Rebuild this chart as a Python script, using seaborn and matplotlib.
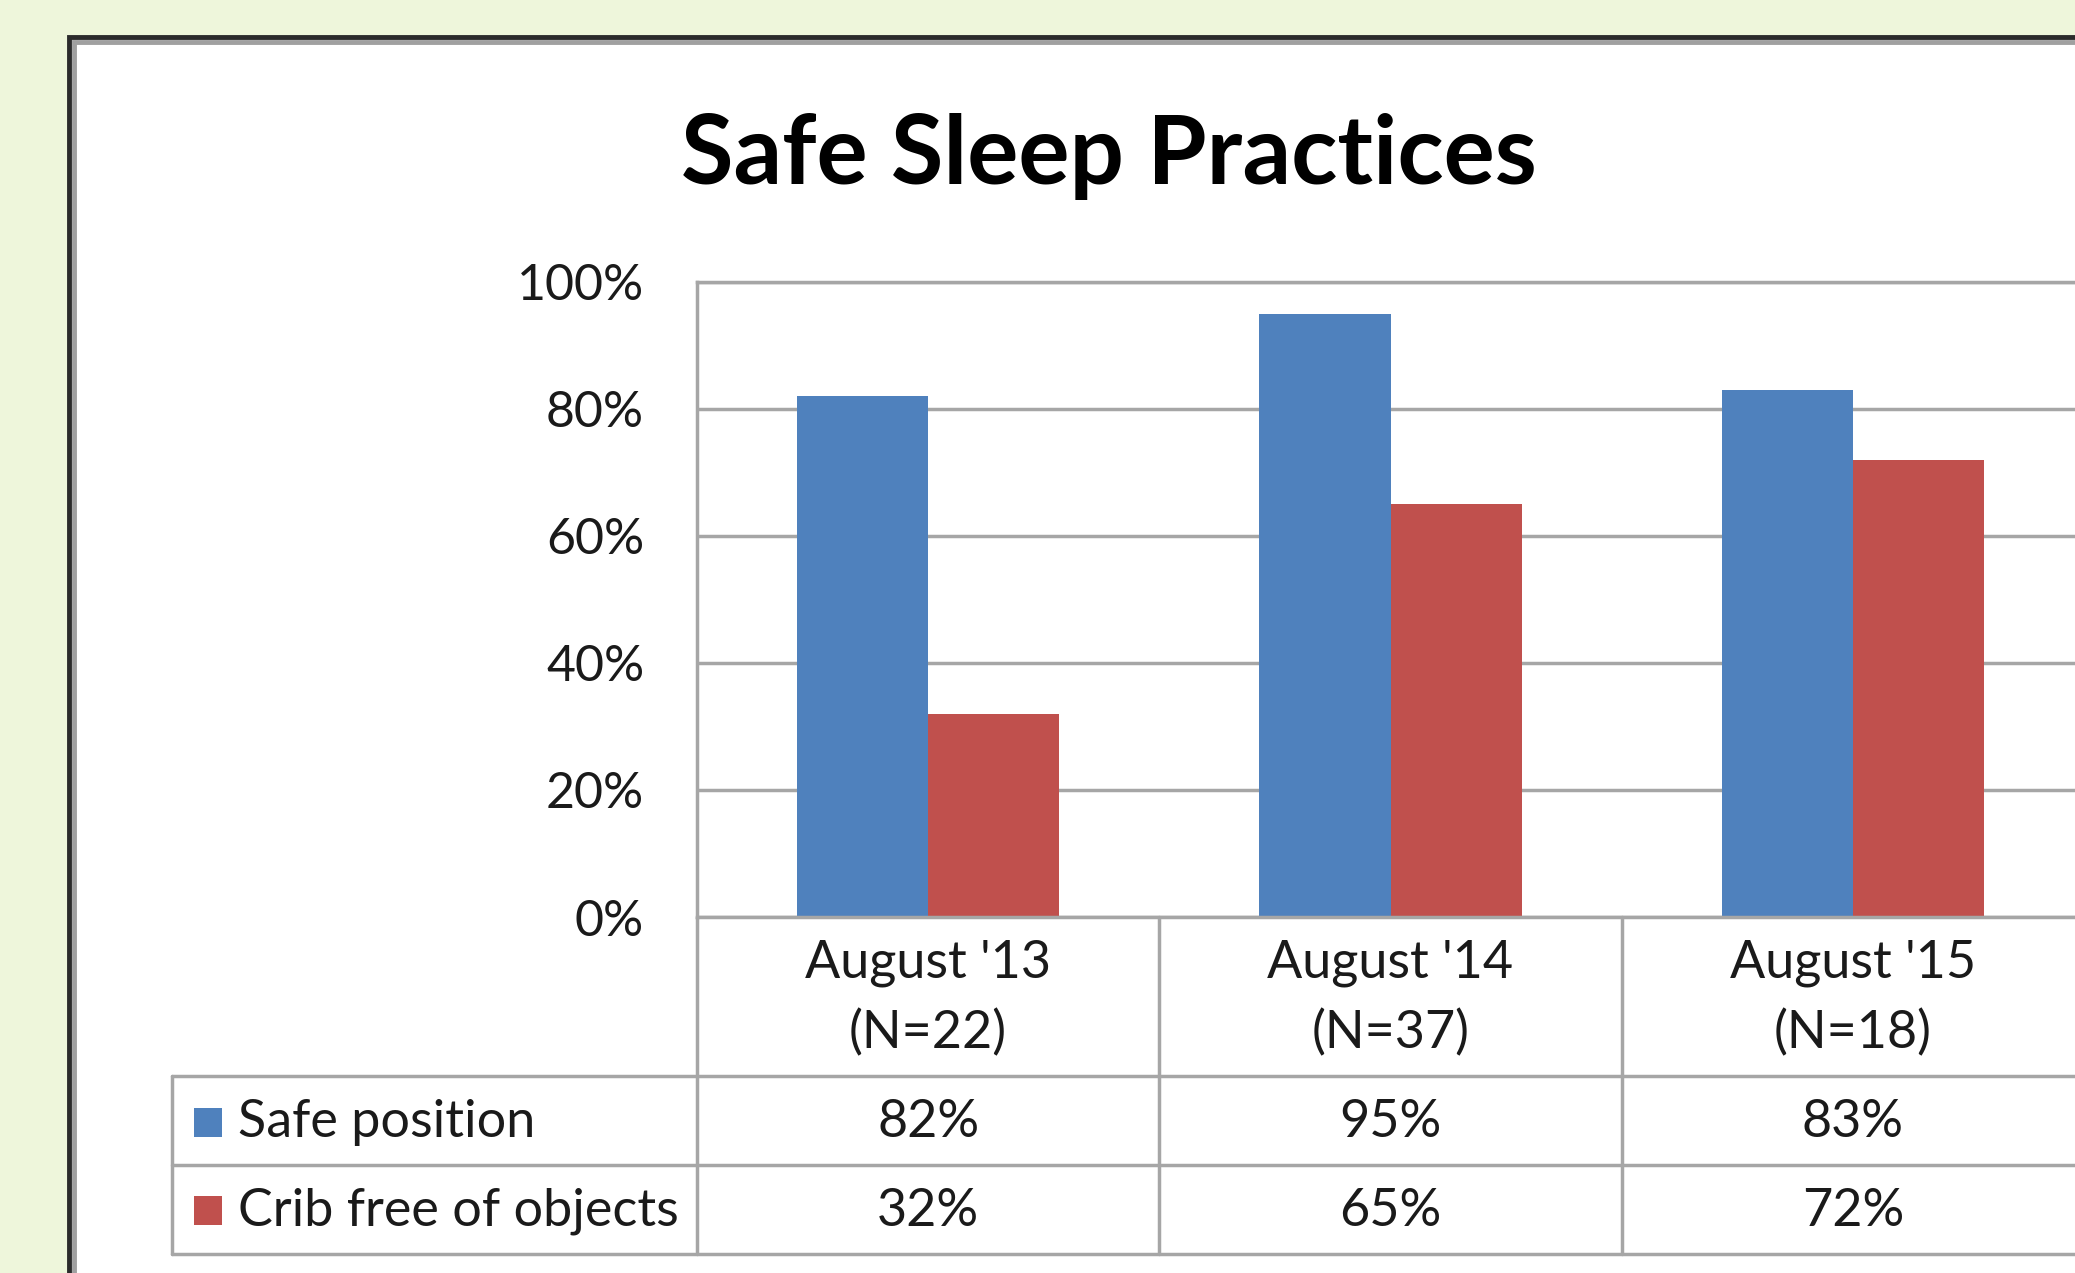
import pandas as pd
import matplotlib.pyplot as plt
import matplotlib.transforms as mtransforms
from matplotlib.patches import Rectangle
from matplotlib.ticker import PercentFormatter
import seaborn as sns

# Values
categories = ["August '13\n(N=22)", "August '14\n(N=37)", "August '15\n(N=18)"]
series_names = ["Safe position", "Crib free of objects"]
safe_position = [82, 95, 83]
crib_free = [32, 65, 72]
y_ticks = [0, 20, 40, 60, 80, 100]
colors = ["#4F81BD", "#C0504D"]

df = pd.DataFrame({
    "category": categories * 2,
    "series": [series_names[0]] * len(categories) + [series_names[1]] * len(categories),
    "value": safe_position + crib_free,
})

sns.set_style("white")
plt.rcParams["font.family"] = ["Lato", "DejaVu Sans"]

W, H = 2075, 1273
fig = plt.figure(figsize=(W / 100, H / 100), dpi=100)
fig.patch.set_facecolor("#EEF6DB")

# white chart frame (runs off the right and bottom edge, like the screenshot)
fig.add_artist(Rectangle((69 / W, -0.1), 1.2, 1.1 - 37 / H, transform=fig.transFigure,
                         facecolor="white", edgecolor="#2b2b2b", linewidth=3.5, zorder=0))
fig.add_artist(Rectangle((73.5 / W, -0.1), 1.2, 1.1 - 41.5 / H, transform=fig.transFigure,
                         facecolor="none", edgecolor="#a0a0a0", linewidth=3.5, zorder=0))

ax = fig.add_axes([697 / W, 1 - 917 / H, (2084 - 697) / W, (917 - 282) / H])
ax.set_facecolor("none")

sns.barplot(data=df, x="category", y="value", hue="series", order=categories,
            hue_order=series_names, palette=colors, saturation=1, width=0.567,
            legend=False, ax=ax, edgecolor="white", linewidth=0)

grid_col = "#A6A6A6"
text_col = "#1a1a1a"
fs = 37.5
ax.set_xlim(-0.5, len(categories) - 0.5)
ax.set_ylim(0, 100)
ax.set_yticks(y_ticks)
ax.yaxis.set_major_formatter(PercentFormatter(100, decimals=0))
ax.yaxis.grid(True, color=grid_col, linewidth=2.5)
ax.set_axisbelow(True)
ax.tick_params(axis="y", length=0, pad=38, labelsize=36, labelcolor=text_col)
ax.tick_params(axis="x", length=0, labelbottom=False)
ax.set_xlabel("")
ax.set_ylabel("")
for s in ax.spines.values():
    s.set_color(grid_col)
    s.set_linewidth(2.5)

# data table under the plot
trans = mtransforms.blended_transform_factory(ax.transData, ax.transAxes)
leg_left = -0.3785
header_bottom, row1_bottom, table_bottom = -0.250, -0.391, -0.531
line_kw = dict(color=grid_col, linewidth=2.5, clip_on=False)

for y in [header_bottom, row1_bottom, table_bottom]:
    ax.plot([leg_left, 1], [y, y], transform=ax.transAxes, **line_kw)
ax.plot([leg_left, leg_left], [header_bottom, table_bottom], transform=ax.transAxes, **line_kw)
ax.plot([0, 0], [0, table_bottom], transform=ax.transAxes, **line_kw)
for i in range(len(categories)):
    ax.plot([i + 0.5, i + 0.5], [0, table_bottom], transform=trans, **line_kw)

for i, cat in enumerate(categories):
    ax.text(i, -0.128, cat, transform=trans, ha="center", va="center",
            fontsize=fs, linespacing=1.55, color=text_col)

rows = [(series_names[0], colors[0], safe_position, -0.323),
        (series_names[1], colors[1], crib_free, -0.463)]
for name, col, vals, y in rows:
    for i, v in enumerate(vals):
        ax.text(i, y, f"{v}%", transform=trans, ha="center", va="center",
                fontsize=fs, color=text_col)
    ax.add_patch(Rectangle((-0.3627, y - 0.0228), 0.0202, 0.0457, transform=ax.transAxes,
                           facecolor=col, edgecolor="none", clip_on=False))
    ax.text(-0.331, y, name, transform=ax.transAxes, ha="left", va="center",
            fontsize=fs, color=text_col)

fig.text(0.5345, 0.877, "Safe Sleep Practices", ha="center", va="center",
         fontsize=69, fontweight="bold", color="black")

fig.savefig("out.png", dpi=100, facecolor=fig.get_facecolor())
